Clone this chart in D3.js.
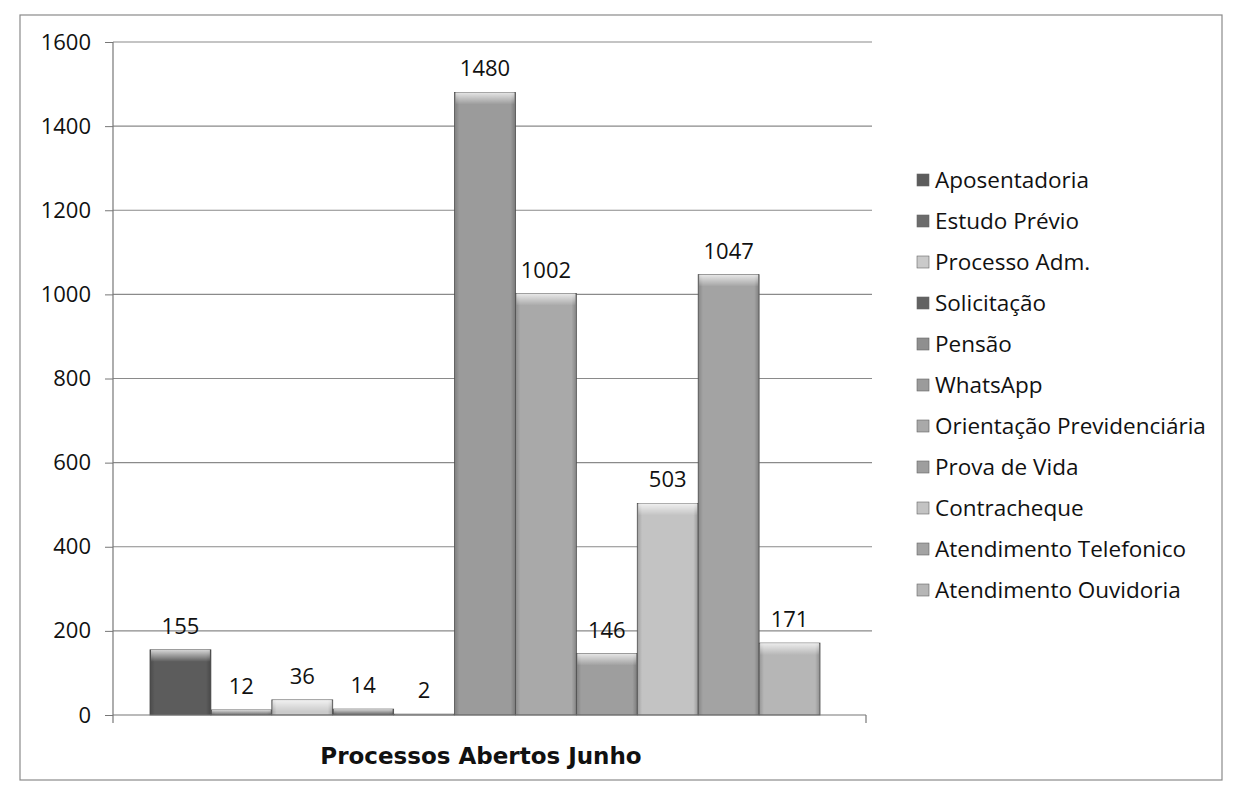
<!DOCTYPE html>
<html>
<head>
<meta charset="utf-8">
<script src="https://cdn.jsdelivr.net/npm/d3@7"></script>
<style>
  body { margin: 0; background: #fff; }
  svg text { font-family: "Open Sans", sans-serif; fill: #111; }
</style>
</head>
<body>
<div class="js-graph"></div>
<script>
(function(d3) {
	var w = 1245, h = 798,
		graph = d3.select('.js-graph').append('svg');
	graph.attr('width', w).attr('height', h);

	var
		category = ['Processos Abertos Junho'],
		series = ['Aposentadoria', 'Estudo Prévio', 'Processo Adm.', 'Solicitação', 'Pensão',
			'WhatsApp', 'Orientação Previdenciária', 'Prova de Vida', 'Contracheque',
			'Atendimento Telefonico', 'Atendimento Ouvidoria'],
		values = [155, 12, 36, 14, 2, 1480, 1002, 146, 503, 1047, 171],
		yTicks = [0, 200, 400, 600, 800, 1000, 1200, 1400, 1600],
		colors = ['#5c5c5c', '#6c6c6c', '#cacaca', '#626262', '#8f8f8f', '#9b9b9b',
			'#a9a9a9', '#9e9e9e', '#c3c3c3', '#a3a3a3', '#b6b6b6'];

	var left = 113, right = 866, top = 42, bottom = 715;

	var y = d3.scaleLinear().domain([0, 1600]).range([bottom, top]);
	var x0 = d3.scaleBand().domain(category).range([left, 857])
		.paddingInner(0).paddingOuter(0.0552);
	var x1 = d3.scaleBand().domain(series).range([0, x0.bandwidth()]);
	var color = d3.scaleOrdinal().domain(series).range(colors);

	// outer frame
	graph.append('rect')
		.attr('x', 20).attr('y', 15).attr('width', 1202).attr('height', 765)
		.attr('fill', 'none').attr('stroke', '#8a8a8a').attr('stroke-width', 1.2);

	// bevel gradients
	var defs = graph.append('defs');
	var topGrad = defs.append('linearGradient').attr('id', 'bevelTop')
		.attr('x1', 0).attr('y1', 0).attr('x2', 0).attr('y2', 1);
	topGrad.append('stop').attr('offset', '0%').attr('stop-color', '#fff').attr('stop-opacity', 0.75);
	topGrad.append('stop').attr('offset', '100%').attr('stop-color', '#fff').attr('stop-opacity', 0);
	var sideGrad = defs.append('linearGradient').attr('id', 'bevelSide')
		.attr('x1', 0).attr('y1', 0).attr('x2', 1).attr('y2', 0);
	sideGrad.append('stop').attr('offset', '0%').attr('stop-color', '#000').attr('stop-opacity', 0.18);
	sideGrad.append('stop').attr('offset', '8%').attr('stop-color', '#000').attr('stop-opacity', 0);
	sideGrad.append('stop').attr('offset', '92%').attr('stop-color', '#000').attr('stop-opacity', 0);
	sideGrad.append('stop').attr('offset', '100%').attr('stop-color', '#000').attr('stop-opacity', 0.22);

	// gridlines + axis
	var yAxis = d3.axisLeft(y).tickValues(yTicks).tickFormat(d3.format('d'))
		.tickSize(8).tickPadding(14);
	var ay = graph.append('g').attr('transform', 'translate(' + left + ',0)').call(yAxis);
	ay.select('.domain').remove();
	ay.selectAll('line').attr('stroke', '#777');
	ay.selectAll('text').style('font-size', '22px').attr('fill', '#111');

	graph.append('g').selectAll('line.grid')
		.data(yTicks.slice(1))
		.enter()
		.append('line')
		.attr('x1', left).attr('x2', right + 6)
		.attr('y1', function(d) { return y(d); })
		.attr('y2', function(d) { return y(d); })
		.style('stroke', '#8a8a8a').style('stroke-width', 1.2);

	var bx = x0(category[0]);
	var bars = graph.append('g').selectAll('g.bar')
		.data(series.map(function(s, i) { return { name: s, value: values[i] }; }))
		.enter()
		.append('g');

	bars.append('rect')
		.attr('x', function(d) { return bx + x1(d.name); })
		.attr('y', function(d) { return y(d.value); })
		.attr('width', x1.bandwidth())
		.attr('height', function(d) { return bottom - y(d.value); })
		.attr('fill', function(d) { return color(d.name); })
		.attr('stroke', '#555').attr('stroke-width', 0.8);
	bars.append('rect')
		.attr('x', function(d) { return bx + x1(d.name); })
		.attr('y', function(d) { return y(d.value); })
		.attr('width', x1.bandwidth())
		.attr('height', function(d) { return bottom - y(d.value); })
		.attr('fill', 'url(#bevelSide)');
	bars.append('rect')
		.attr('x', function(d) { return bx + x1(d.name) + 1; })
		.attr('y', function(d) { return y(d.value); })
		.attr('width', x1.bandwidth() - 2)
		.attr('height', function(d) { return Math.min(12, bottom - y(d.value)); })
		.attr('fill', 'url(#bevelTop)');

	bars.append('text')
		.attr('x', function(d) { return bx + x1(d.name) + x1.bandwidth() / 2; })
		.attr('y', function(d) { return y(d.value) - 16; })
		.attr('text-anchor', 'middle')
		.style('font-size', '22px')
		.text(function(d) { return d.value; });

	// axis lines
	graph.append('line')
		.attr('x1', left).attr('x2', left).attr('y1', top).attr('y2', bottom + 8)
		.style('stroke', '#777').style('stroke-width', 1.2);
	graph.append('line')
		.attr('x1', left).attr('x2', right).attr('y1', bottom).attr('y2', bottom)
		.style('stroke', '#777').style('stroke-width', 1.2);
	graph.append('line')
		.attr('x1', right).attr('x2', right).attr('y1', bottom).attr('y2', bottom + 8)
		.style('stroke', '#777').style('stroke-width', 1.2);

	// category label
	graph.append('text')
		.attr('x', x0(category[0]) + x0.bandwidth() / 2 - 4)
		.attr('y', 764)
		.attr('text-anchor', 'middle')
		.style('font-family', '"DejaVu Sans", sans-serif')
		.style('font-weight', 'bold')
		.style('font-size', '23px')
		.text(category[0]);

	// legend
	var legend = graph.append('g').selectAll('g.legend')
		.data(series)
		.enter()
		.append('g')
		.attr('transform', function(d, i) { return 'translate(917,' + (180 + i * 41) + ')'; });
	legend.append('rect')
		.attr('x', 0).attr('y', -6).attr('width', 12).attr('height', 12)
		.attr('fill', function(d) { return color(d); })
		.attr('stroke', '#666').attr('stroke-width', 0.6);
	legend.append('text')
		.attr('x', 18).attr('y', 8)
		.style('font-size', '22.5px')
		.text(function(d) { return d; });
})(d3);
</script>
</body>
</html>
